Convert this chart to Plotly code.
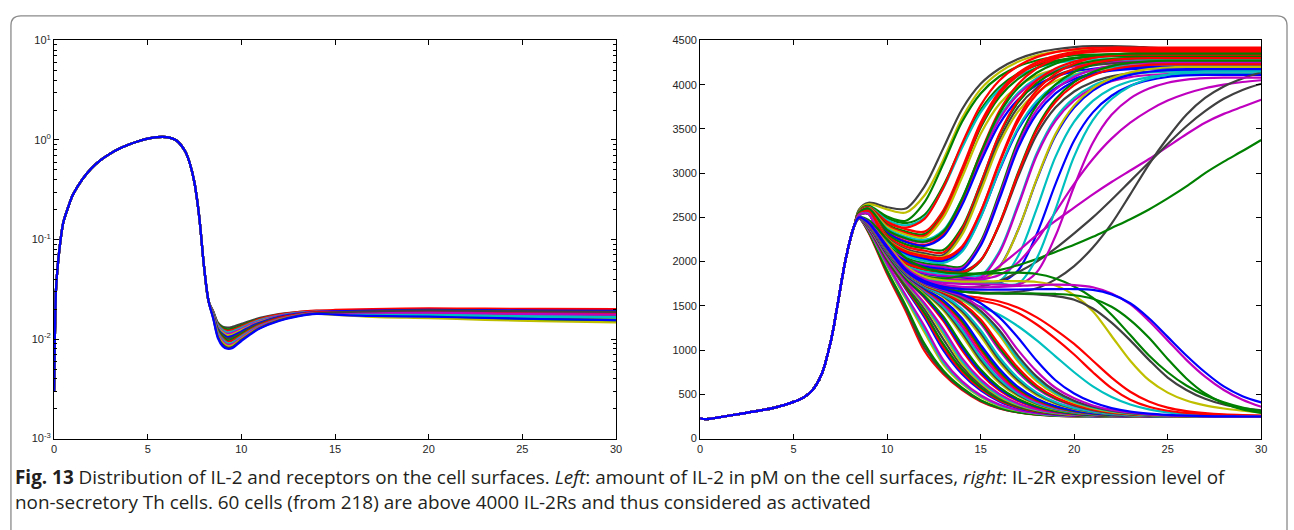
import plotly.graph_objects as go

# ---------------- data ----------------
# Left panel: IL-2 on cell surfaces (pM), log axis
LEFT_PRE_T = [0, 0.05, 0.1, 0.2, 0.35, 0.5, 0.75, 1, 1.5, 2, 2.5, 3, 3.5, 4, 4.5, 5, 5.5, 6, 6.5, 7, 7.25, 7.5, 7.75, 8.0]
LEFT_PRE_V = [0.003, 0.012, 0.03, 0.055, 0.1, 0.15, 0.21, 0.28, 0.40, 0.52, 0.63, 0.73, 0.82, 0.90, 0.97, 1.03, 1.07, 1.07, 1.0, 0.77, 0.58, 0.37, 0.17, 0.055]
LEFT_TAIL_T = [8.25, 8.5, 8.75, 9, 9.25, 9.5, 10, 10.5, 11, 12, 13, 14, 15, 17, 20, 23, 26, 30]
LEFT_BAND = [
    [0.0240, 0.0190, 0.0146, 0.0133, 0.0130, 0.0132, 0.0142, 0.0153, 0.0163, 0.0178, 0.0187, 0.0192, 0.0191, 0.0189, 0.0188, 0.0185, 0.0182, 0.0180],
    [0.0240, 0.0188, 0.0143, 0.0130, 0.0125, 0.0127, 0.0137, 0.0149, 0.0159, 0.0175, 0.0185, 0.0190, 0.0187, 0.0183, 0.0180, 0.0176, 0.0173, 0.0170],
    [0.0240, 0.0186, 0.0140, 0.0126, 0.0121, 0.0123, 0.0134, 0.0147, 0.0159, 0.0176, 0.0187, 0.0193, 0.0196, 0.0200, 0.0203, 0.0202, 0.0201, 0.0200],
    [0.0240, 0.0184, 0.0137, 0.0123, 0.0117, 0.0119, 0.0130, 0.0143, 0.0155, 0.0172, 0.0183, 0.0189, 0.0186, 0.0181, 0.0178, 0.0174, 0.0171, 0.0168],
    [0.0240, 0.0181, 0.0133, 0.0119, 0.0113, 0.0115, 0.0126, 0.0140, 0.0152, 0.0170, 0.0181, 0.0188, 0.0189, 0.0190, 0.0190, 0.0187, 0.0185, 0.0183],
    [0.0240, 0.0179, 0.0130, 0.0116, 0.0109, 0.0111, 0.0123, 0.0136, 0.0149, 0.0167, 0.0179, 0.0186, 0.0182, 0.0176, 0.0172, 0.0167, 0.0164, 0.0160],
    [0.0240, 0.0177, 0.0127, 0.0112, 0.0105, 0.0107, 0.0119, 0.0134, 0.0147, 0.0167, 0.0180, 0.0187, 0.0190, 0.0193, 0.0196, 0.0195, 0.0193, 0.0192],
    [0.0240, 0.0175, 0.0124, 0.0109, 0.0101, 0.0103, 0.0115, 0.0130, 0.0143, 0.0164, 0.0177, 0.0185, 0.0181, 0.0175, 0.0170, 0.0164, 0.0160, 0.0156],
    [0.0240, 0.0173, 0.0121, 0.0106, 0.0097, 0.0099, 0.0112, 0.0127, 0.0140, 0.0161, 0.0175, 0.0183, 0.0178, 0.0171, 0.0166, 0.0160, 0.0155, 0.0150],
    [0.0240, 0.0171, 0.0118, 0.0102, 0.0094, 0.0096, 0.0109, 0.0125, 0.0139, 0.0162, 0.0176, 0.0185, 0.0185, 0.0186, 0.0186, 0.0183, 0.0180, 0.0178],
    [0.0240, 0.0169, 0.0115, 0.0099, 0.0091, 0.0092, 0.0106, 0.0122, 0.0136, 0.0158, 0.0173, 0.0182, 0.0180, 0.0177, 0.0174, 0.0170, 0.0167, 0.0165],
    [0.0240, 0.0166, 0.0111, 0.0095, 0.0088, 0.0089, 0.0103, 0.0119, 0.0134, 0.0157, 0.0173, 0.0182, 0.0183, 0.0184, 0.0184, 0.0181, 0.0178, 0.0176],
    [0.0240, 0.0164, 0.0108, 0.0092, 0.0085, 0.0086, 0.0100, 0.0116, 0.0131, 0.0155, 0.0171, 0.0180, 0.0175, 0.0167, 0.0162, 0.0156, 0.0151, 0.0147],
    [0.0240, 0.0162, 0.0105, 0.0088, 0.0082, 0.0083, 0.0098, 0.0114, 0.0130, 0.0154, 0.0171, 0.0181, 0.0185, 0.0190, 0.0194, 0.0192, 0.0190, 0.0188],
    [0.0240, 0.0160, 0.0102, 0.0085, 0.0080, 0.0081, 0.00955, 0.0112, 0.0128, 0.0152, 0.0169, 0.0179, 0.0176, 0.0171, 0.0168, 0.0163, 0.0159, 0.0155],
]
LEFT_TICKS_Y = [0.001, 0.01, 0.1, 1, 10]
LEFT_TICKTEXT_Y = ["10<sup>-3</sup>", "10<sup>-2</sup>", "10<sup>-1</sup>", "10<sup>0</sup>", "10<sup>1</sup>"]
X_TICKS = [0, 5, 10, 15, 20, 25, 30]

# Right panel: IL-2R expression per cell
RIGHT_PRE_T = [0, 0.3, 1, 2, 3, 4, 5, 5.5, 6, 6.5, 7, 7.25, 7.5, 7.75, 8, 8.25]
RIGHT_PRE_V = [230, 220, 240, 275, 310, 350, 415, 460, 545, 730, 1110, 1390, 1700, 1990, 2230, 2410]
RIGHT_TAIL_T = [8.5, 9, 10, 11, 12, 13, 14, 15, 16, 17, 18, 19, 20, 21, 22, 23, 24, 25, 26, 27, 28, 29, 30]

RIGHT_UPPER = [
    [2590, 2665, 2615, 2600, 2850, 3280, 3720, 4010, 4180, 4290, 4360, 4400, 4425, 4435, 4435, 4430, 4420, 4410, 4405, 4400, 4400, 4400, 4400],
    [2580, 2650, 2590, 2555, 2750, 3150, 3620, 3950, 4140, 4260, 4330, 4370, 4390, 4395, 4395, 4395, 4390, 4385, 4380, 4380, 4380, 4380, 4380],
    [2575, 2630, 2510, 2462, 2672, 3104, 3578, 3901, 4092, 4206, 4273, 4311, 4330, 4340, 4340, 4340, 4340, 4340, 4340, 4340, 4340, 4340, 4340],
    [2570, 2625, 2490, 2436, 2530, 2857, 3314, 3715, 3974, 4128, 4219, 4272, 4301, 4315, 4320, 4320, 4320, 4320, 4320, 4320, 4320, 4320, 4320],
    [2568, 2620, 2470, 2410, 2501, 2828, 3285, 3686, 3944, 4098, 4189, 4242, 4271, 4285, 4290, 4290, 4290, 4290, 4290, 4290, 4290, 4290, 4290],
    [2565, 2615, 2450, 2384, 2483, 2836, 3331, 3766, 4046, 4212, 4311, 4368, 4399, 4415, 4420, 4420, 4420, 4420, 4420, 4420, 4420, 4420, 4420],
    [2565, 2615, 2438, 2367, 2339, 2578, 3051, 3569, 3922, 4130, 4254, 4327, 4369, 4390, 4400, 4400, 4400, 4400, 4400, 4400, 4400, 4400, 4400],
    [2560, 2610, 2418, 2341, 2311, 2543, 3007, 3515, 3861, 4065, 4187, 4259, 4299, 4320, 4330, 4330, 4330, 4330, 4330, 4330, 4330, 4330, 4330],
    [2560, 2610, 2406, 2324, 2292, 2532, 3012, 3537, 3895, 4106, 4232, 4306, 4348, 4369, 4380, 4380, 4380, 4380, 4380, 4380, 4380, 4380, 4380],
    [2558, 2605, 2392, 2307, 2273, 2498, 2951, 3445, 3782, 3981, 4101, 4170, 4210, 4230, 4240, 4240, 4240, 4240, 4240, 4240, 4240, 4240, 4240],
    [2555, 2600, 2372, 2281, 2245, 2354, 2708, 3201, 3631, 3909, 4074, 4172, 4229, 4259, 4275, 4280, 4280, 4280, 4280, 4280, 4280, 4280, 4280],
    [2555, 2600, 2354, 2256, 2217, 2325, 2680, 3175, 3608, 3887, 4053, 4151, 4208, 4239, 4255, 4260, 4260, 4260, 4260, 4260, 4260, 4260, 4260],
    [2552, 2595, 2334, 2230, 2188, 2306, 2693, 3231, 3701, 4005, 4185, 4292, 4354, 4388, 4404, 4410, 4410, 4410, 4410, 4410, 4410, 4410, 4410],
    [2552, 2595, 2328, 2221, 2179, 2285, 2636, 3126, 3554, 3831, 3995, 4092, 4149, 4180, 4195, 4200, 4200, 4200, 4200, 4200, 4200, 4200, 4200],
    [2550, 2590, 2308, 2195, 2151, 2132, 2387, 2885, 3429, 3799, 4017, 4147, 4224, 4267, 4289, 4300, 4300, 4300, 4300, 4300, 4300, 4300, 4300],
    [2550, 2590, 2290, 2170, 2123, 2103, 2365, 2880, 3441, 3823, 4048, 4183, 4261, 4306, 4329, 4340, 4340, 4340, 4340, 4340, 4340, 4340, 4340],
    [2548, 2585, 2270, 2144, 2094, 2074, 2328, 2829, 3375, 3746, 3965, 4097, 4173, 4217, 4239, 4250, 4250, 4250, 4250, 4250, 4250, 4250, 4250],
    [2548, 2585, 2258, 2127, 2075, 2054, 2303, 2795, 3331, 3696, 3911, 4040, 4115, 4158, 4179, 4190, 4190, 4190, 4190, 4190, 4190, 4190, 4190],
    [2545, 2580, 2238, 2101, 2047, 2025, 2157, 2564, 3127, 3620, 3937, 4125, 4237, 4301, 4337, 4354, 4360, 4360, 4360, 4360, 4360, 4360, 4360],
    [2545, 2580, 2226, 2084, 2028, 2005, 2127, 2507, 3031, 3490, 3786, 3961, 4065, 4125, 4158, 4175, 4180, 4180, 4180, 4180, 4180, 4180, 4180],
    [2543, 2575, 2212, 2067, 2009, 1986, 2111, 2501, 3040, 3511, 3815, 3995, 4102, 4164, 4198, 4214, 4220, 4220, 4220, 4220, 4220, 4220, 4220],
    [2543, 2575, 2194, 2042, 1981, 1957, 1946, 2227, 2771, 3362, 3765, 4002, 4144, 4227, 4274, 4298, 4310, 4310, 4310, 4310, 4310, 4310, 4310],
    [2540, 2570, 2180, 2024, 1962, 1937, 1927, 2203, 2737, 3318, 3714, 3947, 4087, 4168, 4215, 4238, 4250, 4250, 4250, 4250, 4250, 4250, 4250],
    [2540, 2570, 2168, 2007, 1944, 1917, 1907, 2179, 2706, 3280, 3671, 3901, 4039, 4120, 4166, 4189, 4200, 4200, 4200, 4200, 4200, 4200, 4200],
    [2538, 2565, 2154, 1990, 1925, 1898, 1887, 2019, 2414, 2958, 3435, 3741, 3923, 4031, 4093, 4127, 4144, 4150, 4150, 4150, 4150, 4150, 4150],
    [2538, 2565, 2142, 1973, 1906, 1878, 1867, 2008, 2427, 3005, 3511, 3836, 4029, 4143, 4210, 4246, 4264, 4270, 4270, 4270, 4270, 4270, 4270],
    [2535, 2560, 2128, 1955, 1887, 1859, 1847, 1843, 2118, 2649, 3226, 3619, 3850, 3988, 4069, 4115, 4138, 4150, 4150, 4150, 4150, 4150, 4150],
    [2535, 2560, 2116, 1938, 1868, 1839, 1827, 1823, 2096, 2625, 3200, 3591, 3821, 3959, 4040, 4086, 4109, 4120, 4120, 4120, 4120, 4120, 4120],
    [2533, 2555, 2102, 1921, 1849, 1820, 1808, 1803, 1942, 2357, 2926, 3423, 3743, 3933, 4046, 4111, 4146, 4164, 4170, 4170, 4170, 4170, 4170],
    [2533, 2555, 2096, 1912, 1840, 1810, 1798, 1793, 1935, 2356, 2935, 3441, 3766, 3959, 4073, 4140, 4176, 4194, 4200, 4200, 4200, 4200, 4200],
    [2530, 2550, 2088, 1903, 1830, 1800, 1788, 1783, 1781, 2061, 2599, 3184, 3582, 3816, 3956, 4038, 4085, 4108, 4120, 4120, 4120, 4120, 4120],
    [2530, 2550, 2076, 1886, 1811, 1781, 1768, 1763, 1761, 1901, 2312, 2876, 3370, 3687, 3875, 3987, 4051, 4087, 4104, 4110, 4110, 4110, 4110],
    [2530, 2550, 2090, 1905, 1835, 1805, 1795, 1800, 1850, 1990, 2240, 2560, 2880, 3160, 3390, 3570, 3710, 3820, 3900, 3960, 4000, 4030, 4050],
    [2528, 2545, 2080, 1893, 1822, 1795, 1786, 1800, 1950, 2120, 2300, 2460, 2610, 2760, 2900, 3030, 3160, 3300, 3440, 3570, 3670, 3750, 3830],
    [2525, 2540, 2060, 1850, 1760, 1700, 1665, 1650, 1650, 1660, 1700, 1800, 1950, 2160, 2430, 2760, 3100, 3400, 3660, 3850, 3980, 4070, 4140],
    [2525, 2540, 2065, 1860, 1770, 1725, 1705, 1720, 1780, 1880, 2000, 2150, 2320, 2500, 2700, 2910, 3120, 3330, 3530, 3700, 3840, 3940, 4010],
    [2528, 2545, 2085, 1900, 1835, 1810, 1840, 1870, 1905, 1960, 2030, 2110, 2190, 2280, 2380, 2480, 2590, 2715, 2850, 3000, 3130, 3250, 3375],
    [2545, 2580, 2250, 2118, 2066, 2044, 2172, 2565, 3109, 3585, 3891, 4073, 4181, 4243, 4277, 4294, 4300, 4300, 4300, 4300, 4300, 4300, 4300],
    [2555, 2600, 2360, 2264, 2226, 2339, 2709, 3223, 3673, 3963, 4135, 4237, 4296, 4329, 4345, 4350, 4350, 4350, 4350, 4350, 4350, 4350, 4350],
    [2538, 2565, 2148, 1981, 1915, 1888, 1877, 2015, 2425, 2991, 3487, 3805, 3994, 4106, 4171, 4206, 4224, 4230, 4230, 4230, 4230, 4230, 4230],
    [2528, 2545, 2068, 1877, 1802, 1771, 1758, 1753, 1751, 1750, 2038, 2590, 3190, 3598, 3838, 3982, 4066, 4114, 4138, 4150, 4150, 4150, 4150],
    [2528, 2540, 2060, 1868, 1792, 1761, 1748, 1743, 1741, 1740, 1880, 2290, 2852, 3343, 3659, 3846, 3957, 4022, 4057, 4074, 4080, 4080, 4080],
]

RIGHT_LATE_DECAY = [
    [2500, 2440, 2160, 1890, 1740, 1640, 1560, 1490, 1400, 1270, 1110, 930, 750, 590, 470, 385, 330, 296, 275, 263, 256, 252, 250],
    [2500, 2445, 2170, 1900, 1750, 1640, 1595, 1560, 1510, 1420, 1290, 1130, 950, 750, 570, 440, 360, 315, 290, 276, 266, 260, 256],
    [2500, 2445, 2170, 1905, 1760, 1660, 1620, 1590, 1550, 1480, 1370, 1230, 1070, 880, 690, 530, 420, 350, 310, 287, 273, 265, 260],
    [2500, 2450, 2200, 1950, 1830, 1790, 1775, 1775, 1780, 1780, 1770, 1730, 1620, 1440, 1160, 880, 660, 520, 430, 375, 340, 315, 295],
    [2500, 2440, 2160, 1900, 1760, 1690, 1660, 1645, 1640, 1638, 1630, 1610, 1570, 1470, 1310, 1110, 890, 690, 550, 450, 385, 345, 320],
    [2500, 2470, 2250, 2040, 1930, 1880, 1865, 1865, 1870, 1875, 1860, 1810, 1720, 1590, 1400, 1170, 940, 750, 600, 490, 410, 350, 310],
    [2500, 2440, 2160, 1900, 1760, 1690, 1660, 1645, 1640, 1640, 1640, 1635, 1620, 1580, 1490, 1340, 1140, 900, 680, 510, 400, 330, 290],
    [2500, 2450, 2180, 1930, 1800, 1740, 1715, 1710, 1715, 1725, 1735, 1740, 1735, 1710, 1640, 1520, 1330, 1110, 890, 700, 550, 440, 360],
    [2500, 2445, 2170, 1910, 1780, 1715, 1690, 1683, 1683, 1685, 1688, 1690, 1690, 1680, 1630, 1530, 1360, 1150, 940, 750, 590, 480, 410],
]

RIGHT_LOWER = [
    [2490, 2330, 1860, 1440, 990, 730, 550, 420, 340, 295, 270, 258, 252, 250, 250, 250, 250, 250, 250, 250, 250, 250, 250],
    [2490, 2338, 1880, 1470, 1030, 750, 562, 428, 345, 298, 272, 259, 253, 250, 250, 250, 250, 250, 250, 250, 250, 250, 250],
    [2490, 2345, 1900, 1500, 1070, 770, 575, 435, 350, 300, 273, 260, 253, 250, 250, 250, 250, 250, 250, 250, 250, 250, 250],
    [2490, 2360, 1950, 1580, 1200, 840, 620, 470, 370, 315, 282, 265, 256, 252, 250, 250, 250, 250, 250, 250, 250, 250, 250],
    [2490, 2362, 1962, 1600, 1235, 865, 635, 480, 378, 318, 285, 266, 257, 252, 250, 250, 250, 250, 250, 250, 250, 250, 250],
    [2490, 2365, 1975, 1620, 1270, 890, 650, 490, 385, 322, 287, 268, 258, 253, 250, 250, 250, 250, 250, 250, 250, 250, 250],
    [2492, 2380, 2010, 1690, 1370, 1000, 730, 545, 420, 345, 300, 275, 262, 255, 251, 250, 250, 250, 250, 250, 250, 250, 250],
    [2492, 2382, 2018, 1702, 1395, 1035, 755, 562, 432, 352, 305, 278, 264, 256, 251, 250, 250, 250, 250, 250, 250, 250, 250],
    [2492, 2385, 2025, 1715, 1420, 1070, 780, 580, 445, 360, 310, 281, 266, 257, 252, 250, 250, 250, 250, 250, 250, 250, 250],
    [2493, 2390, 2038, 1738, 1460, 1125, 815, 605, 460, 370, 316, 285, 268, 258, 252, 250, 250, 250, 250, 250, 250, 250, 250],
    [2494, 2395, 2050, 1760, 1500, 1180, 850, 630, 475, 380, 322, 288, 270, 259, 253, 250, 250, 250, 250, 250, 250, 250, 250],
    [2494, 2396, 2056, 1768, 1515, 1210, 880, 650, 490, 389, 328, 292, 272, 260, 254, 250, 250, 250, 250, 250, 250, 250, 250],
    [2494, 2398, 2062, 1775, 1530, 1240, 910, 670, 505, 398, 333, 295, 274, 262, 255, 251, 250, 250, 250, 250, 250, 250, 250],
    [2496, 2405, 2080, 1800, 1590, 1330, 1000, 730, 545, 425, 350, 305, 280, 265, 257, 252, 250, 250, 250, 250, 250, 250, 250],
    [2496, 2406, 2084, 1806, 1602, 1355, 1030, 755, 562, 436, 358, 310, 283, 267, 258, 252, 250, 250, 250, 250, 250, 250, 250],
    [2496, 2407, 2088, 1812, 1615, 1380, 1060, 780, 580, 448, 365, 314, 286, 269, 259, 253, 250, 250, 250, 250, 250, 250, 250],
    [2497, 2410, 2100, 1830, 1650, 1450, 1170, 860, 630, 480, 385, 327, 293, 273, 261, 254, 251, 250, 250, 250, 250, 250, 250],
    [2497, 2411, 2102, 1835, 1659, 1470, 1200, 890, 652, 495, 394, 332, 296, 275, 262, 255, 251, 250, 250, 250, 250, 250, 250],
    [2497, 2412, 2105, 1840, 1668, 1490, 1230, 920, 675, 510, 403, 338, 300, 277, 264, 256, 252, 250, 250, 250, 250, 250, 250],
    [2497, 2413, 2108, 1845, 1679, 1515, 1270, 960, 708, 530, 416, 346, 305, 280, 265, 257, 252, 250, 250, 250, 250, 250, 250],
    [2498, 2415, 2110, 1850, 1690, 1540, 1310, 1000, 740, 550, 430, 355, 310, 283, 267, 258, 253, 250, 250, 250, 250, 250, 250],
    [2498, 2416, 2112, 1853, 1695, 1552, 1335, 1030, 765, 568, 441, 362, 314, 286, 268, 259, 253, 250, 250, 250, 250, 250, 250],
    [2498, 2417, 2114, 1856, 1700, 1565, 1360, 1060, 790, 585, 452, 368, 318, 288, 270, 260, 254, 251, 250, 250, 250, 250, 250],
    [2499, 2420, 2120, 1865, 1715, 1600, 1420, 1160, 860, 640, 490, 395, 335, 298, 276, 263, 256, 252, 250, 250, 250, 250, 250],
    [2499, 2421, 2122, 1868, 1718, 1610, 1442, 1192, 890, 662, 505, 404, 341, 302, 278, 264, 257, 252, 250, 250, 250, 250, 250],
    [2499, 2422, 2125, 1870, 1722, 1620, 1465, 1225, 920, 685, 520, 413, 347, 306, 281, 266, 258, 253, 250, 250, 250, 250, 250],
    [2500, 2425, 2130, 1875, 1730, 1640, 1510, 1300, 1000, 750, 565, 445, 370, 320, 290, 272, 261, 255, 251, 250, 250, 250, 250],
    [2500, 2426, 2132, 1878, 1734, 1646, 1522, 1322, 1030, 775, 582, 456, 378, 325, 293, 274, 262, 256, 251, 250, 250, 250, 250],
    [2500, 2427, 2134, 1880, 1737, 1652, 1535, 1345, 1060, 800, 600, 468, 385, 330, 296, 276, 264, 257, 252, 250, 250, 250, 250],
    [2500, 2430, 2140, 1885, 1745, 1665, 1570, 1410, 1170, 870, 650, 500, 405, 345, 305, 282, 267, 258, 253, 250, 250, 250, 250],
    [2500, 2431, 2142, 1886, 1748, 1668, 1580, 1428, 1198, 902, 675, 518, 416, 352, 310, 285, 269, 260, 254, 250, 250, 250, 250],
    [2500, 2432, 2145, 1888, 1750, 1672, 1590, 1445, 1225, 935, 700, 535, 428, 360, 315, 288, 271, 261, 255, 251, 250, 250, 250],
    [2500, 2435, 2150, 1890, 1755, 1680, 1610, 1480, 1280, 1000, 760, 575, 455, 375, 325, 295, 275, 263, 256, 252, 250, 250, 250],
    [2500, 2440, 2155, 1895, 1760, 1690, 1630, 1530, 1370, 1140, 880, 660, 510, 410, 345, 305, 282, 268, 259, 254, 251, 250, 250],
]
RIGHT_TICKS_Y = [0, 500, 1000, 1500, 2000, 2500, 3000, 3500, 4000, 4500]

CAPTION_1 = ("<b>Fig. 13</b> Distribution of IL-2 and receptors on the cell surfaces. <i>Left</i>: amount of IL-2 "
             "in pM on the cell surfaces, <i>right</i>: IL-2R expression level of")
CAPTION_2 = "non-secretory Th cells. 60 cells (from 218) are above 4000 IL-2Rs and thus considered as activated"

# ---------------- styles ----------------
PALETTE = {'b': '#0000FF', 'g': '#008000', 'r': '#FF0000', 'c': '#00BFBF',
           'm': '#BF00BF', 'y': '#BFBF00', 'k': '#404040'}
LEFT_COLORS = "kgrcmybkgrcmykb"
UPPER_COLORS = "kyggcrrgrycmrbgrkyrbcgmbkgcmbycbmmkkgrgrcm"
LATE_COLORS = "crrykggmb"
LOWER_COLORS = "rkgycmbrgkycmrbgykcmrgbykcmgryckmb"
LW = 2.2

assert len(LEFT_COLORS) == len(LEFT_BAND)
assert len(UPPER_COLORS) == len(RIGHT_UPPER)
assert len(LATE_COLORS) == len(RIGHT_LATE_DECAY)
assert len(LOWER_COLORS) == len(RIGHT_LOWER)
for arr in LEFT_BAND:
    assert len(arr) == len(LEFT_TAIL_T)
for grp in (RIGHT_UPPER, RIGHT_LATE_DECAY, RIGHT_LOWER):
    for arr in grp:
        assert len(arr) == len(RIGHT_TAIL_T), (len(arr), arr[:3])

W, H = 1294, 530
def px(x):
    return x / W
def py(y):
    return 1 - y / H

fig = go.Figure()

def add_line(xs, ys, color, xa, ya):
    fig.add_trace(go.Scatter(x=xs, y=ys, mode='lines',
                             line=dict(color=PALETTE[color], width=LW, shape='spline', smoothing=0.9),
                             xaxis=xa, yaxis=ya, hoverinfo='skip', showlegend=False))

for vals, col in zip(LEFT_BAND, LEFT_COLORS):
    add_line(LEFT_PRE_T + LEFT_TAIL_T, LEFT_PRE_V + vals, col, 'x', 'y')

groups = [(RIGHT_UPPER, UPPER_COLORS), (RIGHT_LATE_DECAY, LATE_COLORS), (RIGHT_LOWER, LOWER_COLORS)]
for grp, cols in groups:
    for vals, col in zip(grp, cols):
        add_line(RIGHT_PRE_T + RIGHT_TAIL_T, RIGHT_PRE_V + vals, col, 'x2', 'y2')

tickfont = dict(family="Liberation Sans, Arial, sans-serif", size=11, color="#262626")
axis_common = dict(showline=True, linecolor='black', linewidth=1, mirror='ticks',
                   ticks='inside', ticklen=5, tickcolor='black', tickwidth=1,
                   showgrid=False, zeroline=False, tickfont=tickfont)

minor_vals = []
for e in [0.001, 0.01, 0.1, 1]:
    for k in range(2, 10):
        minor_vals.append(e * k)

fig.update_layout(
    width=W, height=H, autosize=False,
    margin=dict(l=0, r=0, t=0, b=0),
    paper_bgcolor='white', plot_bgcolor='white',
    xaxis=dict(domain=[px(51.4), px(617.3)], range=[0, 30], tickvals=X_TICKS, anchor='y', **axis_common),
    yaxis=dict(domain=[py(442.3), py(33.3)], type='log', range=[-3, 1], anchor='x',
               tickvals=LEFT_TICKS_Y, ticktext=LEFT_TICKTEXT_Y,
               minor=dict(ticks='inside', ticklen=3, tickcolor='black', tickvals=minor_vals, showgrid=False),
               **axis_common),
    xaxis2=dict(domain=[px(702), px(1267)], range=[0, 30], tickvals=X_TICKS, anchor='y2', **axis_common),
    yaxis2=dict(domain=[py(442.3), py(33.3)], range=[0, 4500], tickvals=RIGHT_TICKS_Y, anchor='x2', **axis_common),
)

# rounded frame around the figure panel
r = 10
x0, x1, y0, yb = 8, 1293, 8, 560
path = (f"M {px(x0)},{py(yb)} L {px(x0)},{py(y0 + r)} Q {px(x0)},{py(y0)} {px(x0 + r)},{py(y0)} "
        f"L {px(x1 - r)},{py(y0)} Q {px(x1)},{py(y0)} {px(x1)},{py(y0 + r)} L {px(x1)},{py(yb)}")
fig.add_shape(type='path', path=path, xref='paper', yref='paper',
              line=dict(color='#8a8a8a', width=1.3), layer='below')

capfont = dict(family="Open Sans, sans-serif", size=18.9, color="#231f20")
fig.add_annotation(x=px(10), y=py(482), xref='paper', yref='paper', xanchor='left', yanchor='middle',
                   text=CAPTION_1, showarrow=False, font=capfont, align='left')
fig.add_annotation(x=px(10), y=py(507), xref='paper', yref='paper', xanchor='left', yanchor='middle',
                   text=CAPTION_2, showarrow=False, font=capfont, align='left')

fig.write_html("out.html", config={'displayModeBar': False, 'staticPlot': True},
               post_script="document.body.style.margin='0';document.body.style.overflow='hidden';")
